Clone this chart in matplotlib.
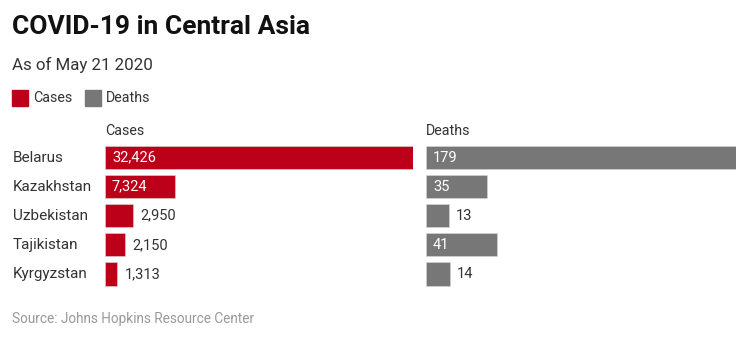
import matplotlib.pyplot as plt
from matplotlib.patches import Rectangle

plt.rcParams['font.family'] = ['Roboto', 'DejaVu Sans']

countries = ['Belarus', 'Kazakhstan', 'Uzbekistan', 'Tajikistan', 'Kyrgyzstan']
cases = [32426, 7324, 2950, 2150, 1313]
deaths = [179, 35, 13, 41, 14]

RED = '#bd0019'
GREY = '#777777'
TEXT = '#333333'

W, H = 754, 339
fig = plt.figure(figsize=(W / 100, H / 100), dpi=100)


def px_axes(x0, x1, y_top, y_bot):
    # axes placed by pixel edges (y measured from the top)
    return fig.add_axes([x0 / W, 1 - y_bot / H, (x1 - x0) / W, (y_bot - y_top) / H])


def bar_panel(ax, values, color, fmt):
    vmax = max(values)
    ax.barh(range(len(values)), values, height=0.8, color=color,
            edgecolor='#d8d8d8', linewidth=0.4)
    ax.set_xlim(0, vmax)
    ax.set_ylim(len(values) - 0.5, -0.5)
    ax.axis('off')
    for i, v in enumerate(values):
        label = fmt(v)
        if v / vmax > 0.15:
            ax.annotate(label, (0, i), xytext=(5, 0), textcoords='offset points',
                        va='center', ha='left', color='white', fontsize=10.5)
        else:
            ax.annotate(label, (v, i), xytext=(5, 0), textcoords='offset points',
                        va='center', ha='left', color=TEXT, fontsize=10.5)


ax_cases = px_axes(105, 413, 143, 288.5)
bar_panel(ax_cases, cases, RED, lambda v: f'{v:,}')

ax_deaths = px_axes(426, 736, 143, 288.5)
bar_panel(ax_deaths, deaths, GREY, lambda v: f'{v}')

# country names along the left
for i, name in enumerate(countries):
    ax_cases.annotate(name, (0, i), xycoords=('figure pixels', 'data'),
                      xytext=(13, 0), textcoords='offset pixels',
                      va='center', ha='left', color=TEXT, fontsize=11)

# column headings
fig.text(105 / W, 1 - 131 / H, 'Cases', ha='left', va='center', color=TEXT, fontsize=10.3)
fig.text(426 / W, 1 - 131 / H, 'Deaths', ha='left', va='center', color=TEXT, fontsize=10.3)

# title block
fig.text(12 / W, 1 - 27 / H, 'COVID-19 in Central Asia', ha='left', va='center',
         fontsize=19, fontweight='bold', color='#111111')
fig.text(12 / W, 1 - 65 / H, 'As of May 21 2020', ha='left', va='center',
         fontsize=12.2, color=TEXT)

# legend swatches
for x, lab, col in [(12, 'Cases', RED), (85, 'Deaths', GREY)]:
    fig.patches.append(Rectangle((x / W, 1 - 106 / H), 16 / W, 16 / H,
                                 transform=fig.transFigure, color=col))
    fig.text((x + 21) / W, 1 - 98 / H, lab, ha='left', va='center',
             fontsize=10.3, color=TEXT)

fig.text(12 / W, 1 - 319 / H, 'Source: Johns Hopkins Resource Center', ha='left',
         va='center', fontsize=9.8, color='#999999')

fig.savefig('out.png', dpi=100)
